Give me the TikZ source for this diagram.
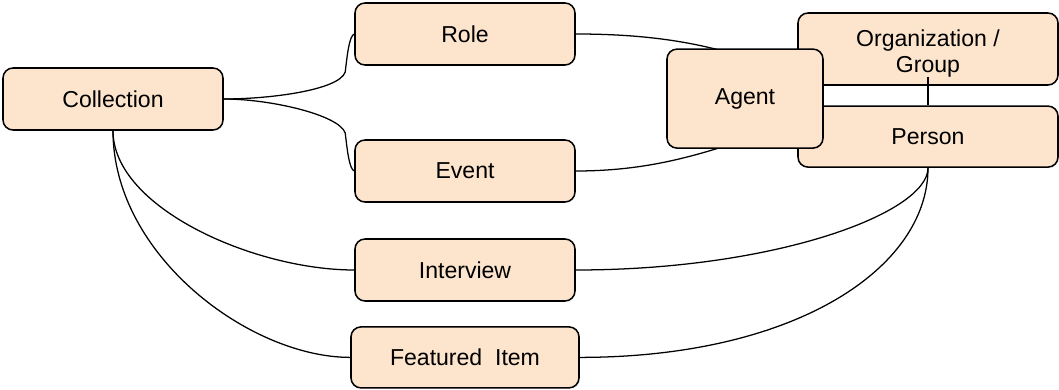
\documentclass[tikz,border=0pt]{standalone}
\usepackage{xcolor}
\usepackage{fontspec}
\setmainfont{Liberation Sans}
\usepackage{tikz}
\usetikzlibrary{backgrounds}

\definecolor{peach}{RGB}{252,228,205}
\tikzset{
    entity/.style={draw, rounded corners=0.25cm, fill=peach, line width=1.1pt,
        minimum width=5.5cm, minimum height=1.55cm, inner sep=0pt, align=center,
        font=\fontsize{16.4}{18.5}\selectfont},
    link/.style={line width=0.9pt}
}

\begin{document}
\begin{tikzpicture}
            \useasboundingbox (0, 0) rectangle (26.475, 9.725);
            \node[entity] at (2.825, 7.25) (coll) {Collection};
            \node[entity] at (11.625, 8.875) (role) {Role};
            \node[entity] at (11.625, 5.45) (event) {Event};
            \node[entity] at (11.625, 2.975) (interview) {Interview};
            \node[entity, minimum width=5.7cm, minimum height=1.525cm] at (11.625, 0.79) (item) {Featured\ \ Item};
            \node[entity, minimum width=6.5cm, minimum height=1.8cm] at (23.2, 8.5) (org) {\rule{0pt}{19pt}Organization /\\Group};
            \node[entity, minimum width=6.5cm, minimum height=1.525cm] at (23.2, 6.31) (person) {Person};
            \node[entity, minimum width=3.9cm, minimum height=2.475cm] at (18.625, 7.26) (agent) {Agent};
            \draw[link] ([yshift=0.225cm]org.south) -- (person.north);
            \begin{scope}[on background layer]
            \draw[link] (coll.east) .. controls +(1.175, 0) and +(-0.15, -0.45) .. ([shift={(-0.225, -0.95)}]role.west)
                .. controls +(0.05, 0.425) and +(-0.125, -0.05) .. (role.west);
            \draw[link] (coll.east) .. controls +(1.175, 0) and +(-0.15, 0.45) .. ([shift={(-0.225, 0.95)}]event.west)
                .. controls +(0.05, -0.425) and +(-0.125, 0.05) .. (event.west);
            \draw[link] (role.east) .. controls +(1.875, 0) and +(-1.125, 0.35) .. ([yshift=-0.225cm]agent.north);
            \draw[link] (event.east) .. controls +(1.875, 0) and +(-1.125, -0.35) .. ([yshift=0.225cm]agent.south);
            \draw[link] (coll.south) .. controls +(0, -1.925) and +(-2.5, 0) .. (interview.west);
            \draw[link] (coll.south) .. controls +(0, -3.125) and +(-2.5, 0) .. (item.west);
            \draw[link] (person.south) .. controls +(0, -1.125) and +(5, 0) .. (interview.east);
            \draw[link] (person.south) .. controls +(0, -2.5) and +(5.4, 0) .. (item.east);
            \end{scope}
    \end{tikzpicture}
\end{document}
